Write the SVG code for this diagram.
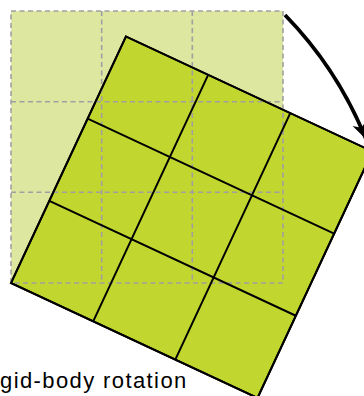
<svg xmlns="http://www.w3.org/2000/svg" width="364" height="396" viewBox="0 0 364 396">
  <style>
    .orig { fill: #dde7a0; }
    .rot { fill: #c1d72f; stroke: #000; stroke-width: 2; }
    .rline { stroke: #000; stroke-width: 2; fill: none; }
    .dash { stroke: #a0a0a0; stroke-width: 1.6; fill: none; stroke-dasharray: 5 3.5; }
    .arrow { stroke: #000; stroke-width: 3.8; fill: none; }
    .label { font-family: "Liberation Sans", Arial, sans-serif; font-size: 22px; fill: #000; letter-spacing: 1.4px; }
  </style>
  <defs>
    <marker id="head" markerUnits="userSpaceOnUse" viewBox="-18 -8 19 16" refX="0" refY="0" markerWidth="19" markerHeight="16" orient="auto">
      <path d="M0,0 L-17,-7.5 L-12,0 L-17,7.5 Z" fill="#000"/>
    </marker>
  </defs>
  <g id="original-fill">
    <rect class="orig" x="11" y="11" width="272" height="272"/>
  </g>
  <g id="rotated" transform="rotate(25 11 283)">
    <rect class="rot" x="11" y="11" width="272" height="272"/>
  </g>
  <g id="original-grid">
    <rect class="dash" x="11" y="11" width="272" height="272"/>
    <path class="dash" d="M101.7,11 V283 M192.3,11 V283 M11,101.7 H283 M11,192.3 H283"/>
  </g>
  <g id="rotated-grid" transform="rotate(25 11 283)">
    <rect class="rline" x="11" y="11" width="272" height="272"/>
    <path class="rline" d="M101.7,11 V283 M192.3,11 V283 M11,101.7 H283 M11,192.3 H283"/>
  </g>
  <g id="connectors">
    <path class="arrow" d="M285,15 A383,383 0 0 1 365.9,139" marker-end="url(#head)"/>
  </g>
  <g id="caption">
    <text class="label" x="0" y="388">gid-body rotation</text>
  </g>
</svg>
